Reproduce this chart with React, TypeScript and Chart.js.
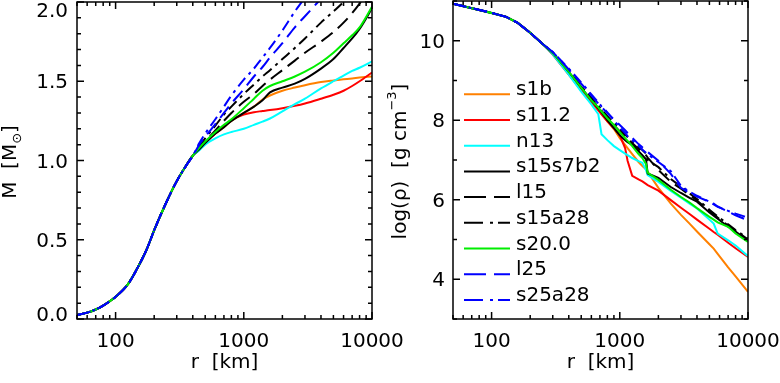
import { useEffect, useRef } from 'react';
import { Chart, registerables } from 'chart.js';
Chart.register(...registerables);

const FONT_FAMILY = '"DejaVu Sans", "Liberation Sans", sans-serif';
const FONT_SIZE = 20;
const SMALL_SIZE = 13;

// ---------- series meta ----------
const SERIES_LABELS = ['s1b', 's11.2', 'n13', 's15s7b2', 'l15', 's15a28', 's20.0', 'l25', 's25a28'];
const SERIES_COLORS = ['#ff8000', '#ff0000', '#00ffff', '#000000', '#000000', '#000000', '#00ee00', '#0000ff', '#0000ff'];
const LINE_KIND = ['solid', 'solid', 'solid', 'solid', 'dash', 'dashdot', 'solid', 'dash', 'dashdot'];

// ---------- left panel: enclosed mass M(r) ----------
const radiusMass = [50, 60, 70, 80, 100, 125, 150, 175, 200, 250, 300, 350, 400,
  450, 500, 600, 700, 800, 1000, 1200, 1400, 1600, 2000, 2500, 3000, 4000, 5000, 6000, 7000, 8000, 10000];
const massCore = [0.025, 0.04, 0.06, 0.085, 0.14, 0.22, 0.33, 0.44, 0.56, 0.74, 0.87, 0.96, 1.03];
const mass_s1b = [...massCore, 1.07, 1.11, 1.17, 1.21, 1.25, 1.30, 1.34, 1.385, 1.41, 1.44, 1.46, 1.475, 1.495, 1.505, 1.512, 1.518, 1.523, 1.53];
const mass_s11 = [...massCore, 1.07, 1.11, 1.17, 1.22, 1.255, 1.29, 1.305, 1.312, 1.318, 1.33, 1.345, 1.36, 1.39, 1.415, 1.44, 1.47, 1.50, 1.555];
const mass_n13 = [...massCore, 1.065, 1.10, 1.14, 1.165, 1.18, 1.20, 1.225, 1.245, 1.265, 1.31, 1.355, 1.39, 1.455, 1.50, 1.535, 1.565, 1.585, 1.625];
const mass_s15s7b2 = [...massCore, 1.07, 1.11, 1.17, 1.21, 1.25, 1.30, 1.34, 1.38, 1.43, 1.46, 1.485, 1.515, 1.58, 1.64, 1.71, 1.77, 1.83, 1.96];
const mass_l15 = [...massCore, 1.08, 1.12, 1.19, 1.25, 1.30, 1.37, 1.42, 1.47, 1.51, 1.57, 1.63, 1.68, 1.75, 1.81, 1.87, 1.93, 1.99, 2.1];
const mass_s15a28 = [...massCore, 1.09, 1.14, 1.22, 1.29, 1.34, 1.42, 1.48, 1.53, 1.57, 1.64, 1.71, 1.77, 1.87, 1.94, 2.0, 2.06, 2.1, 2.18];
const mass_s20 = [...massCore, 1.08, 1.12, 1.18, 1.225, 1.26, 1.33, 1.39, 1.44, 1.47, 1.50, 1.53, 1.56, 1.62, 1.68, 1.74, 1.79, 1.84, 1.97];
const mass_l25 = [...massCore, 1.10, 1.15, 1.23, 1.30, 1.36, 1.45, 1.53, 1.59, 1.65, 1.74, 1.84, 1.91, 2.02, 2.1, 2.16, 2.2, 2.25, 2.33];
const mass_s25a28 = [...massCore, 1.11, 1.17, 1.26, 1.34, 1.41, 1.51, 1.58, 1.65, 1.71, 1.82, 1.94, 2.03, 2.2, 2.3, 2.38, 2.45, 2.5, 2.6];

// ---------- right panel: log density ----------
const radiusRho = [50, 70, 100, 130, 160, 200, 250,
  300, 400, 500, 600, 680, 720, 800, 900, 1000, 1100, 1150, 1250, 1400, 1500, 1600, 1650, 2000,
  2500, 3000, 3500, 4000, 5000, 5400, 5800, 7000, 8000, 10000];
const rhoCore = [10.93, 10.82, 10.70, 10.60, 10.45, 10.20, 9.92];
const rho_s1b = [...rhoCore, 9.68, 9.2, 8.8, 8.48, 8.27, 8.17, 7.97, 7.78, 7.55, 7.38, 7.3, 7.15, 6.95, 6.85, 6.77, 6.7, 6.3, 5.9, 5.62, 5.4, 5.2, 4.88, 4.77, 4.64, 4.3, 4.07, 3.68];
const rho_s11 = [...rhoCore, 9.65, 9.15, 8.75, 8.45, 8.25, 8.15, 7.97, 7.8, 7.62, 7.3, 6.98, 6.6, 6.51, 6.46, 6.4, 6.37, 6.23, 5.99, 5.8, 5.64, 5.5, 5.27, 5.19, 5.12, 4.92, 4.78, 4.56];
const rho_n13 = [...rhoCore, 9.66, 9.15, 8.72, 8.4, 8.15, 7.65, 7.5, 7.35, 7.25, 7.16, 7.12, 7.05, 6.97, 6.93, 6.75, 6.62, 6.45, 6.22, 6.05, 5.9, 5.78, 5.5, 5.4, 5.15, 4.98, 4.85, 4.58];
const rho_s15s7b2 = [...rhoCore, 9.7, 9.22, 8.82, 8.5, 8.3, 8.2, 8.0, 7.8, 7.62, 7.5, 7.45, 7.38, 7.22, 7.12, 7.02, 6.66, 6.55, 6.32, 6.17, 6.05, 5.95, 5.68, 5.6, 5.52, 5.32, 5.2, 4.97];
const rho_l15 = [...rhoCore, 9.7, 9.23, 8.84, 8.53, 8.33, 8.24, 8.06, 7.88, 7.72, 7.58, 7.52, 7.43, 7.28, 7.2, 7.12, 7.06, 6.75, 6.45, 6.28, 6.12, 5.98, 5.72, 5.63, 5.55, 5.35, 5.22, 5.0];
const rho_s15a28 = [...rhoCore, 9.7, 9.24, 8.86, 8.56, 8.36, 8.27, 8.1, 7.93, 7.78, 7.64, 7.58, 7.48, 7.33, 7.25, 7.16, 7.0, 6.82, 6.52, 6.33, 6.16, 6.02, 5.75, 5.66, 5.58, 5.38, 5.24, 5.02];
const rho_s20 = [...rhoCore, 9.7, 9.22, 8.82, 8.5, 8.32, 8.22, 8.05, 7.88, 7.7, 7.55, 7.48, 7.35, 7.15, 7.05, 6.9, 6.68, 6.5, 6.25, 6.07, 5.93, 5.79, 5.57, 5.5, 5.43, 5.32, 5.15, 4.94];
const rho_l25 = [...rhoCore, 9.72, 9.28, 8.92, 8.62, 8.42, 8.33, 8.18, 8.02, 7.88, 7.75, 7.68, 7.56, 7.4, 7.32, 7.25, 7.2, 6.98, 6.65, 6.3, 6.17, 6.08, 5.95, 5.9, 5.83, 5.7, 5.61, 5.48];
const rho_s25a28 = [...rhoCore, 9.72, 9.3, 8.95, 8.65, 8.45, 8.35, 8.2, 8.0, 7.82, 7.68, 7.6, 7.5, 7.36, 7.26, 7.18, 7.14, 6.95, 6.72, 6.35, 6.2, 6.1, 5.95, 5.88, 5.82, 5.72, 5.65, 5.55];

// ---------- axes ----------
const X_TICK_LABELS = [100, 1000, 10000];
const MASS_TICKS = [0, 0.5, 1.0, 1.5, 2.0];
const RHO_TICKS = [4, 6, 8, 10];

const massSeries = [mass_s1b, mass_s11, mass_n13, mass_s15s7b2, mass_l15, mass_s15a28, mass_s20, mass_l25, mass_s25a28];
const rhoSeries = [rho_s1b, rho_s11, rho_n13, rho_s15s7b2, rho_l15, rho_s15a28, rho_s20, rho_l25, rho_s25a28];

const PLOT_DASH: Record<string, number[]> = { solid: [], dash: [14, 7], dashdot: [11, 5, 3, 5] };
const LEGEND_DASH: Record<string, number[]> = { solid: [], dash: [22, 8], dashdot: [19, 7, 3, 5] };

type Run = { t: string; size: number; dy?: number };

function drawRuns(ctx: CanvasRenderingContext2D, runs: Run[], x: number, y: number, rotate: boolean) {
  ctx.save();
  ctx.translate(x, y);
  if (rotate) ctx.rotate(-Math.PI / 2);
  ctx.textBaseline = 'alphabetic';
  ctx.textAlign = 'left';
  ctx.fillStyle = '#000';
  let total = 0;
  const widths = runs.map((r) => {
    ctx.font = `${r.size}px ${FONT_FAMILY}`;
    const w = ctx.measureText(r.t).width;
    total += w;
    return w;
  });
  let cx = -total / 2;
  runs.forEach((r, i) => {
    ctx.font = `${r.size}px ${FONT_FAMILY}`;
    ctx.fillText(r.t, cx, r.dy || 0);
    cx += widths[i];
  });
  ctx.restore();
}

interface AxesCfg {
  yMajor: number[];
  yStep: number;
  yFmt: (v: number) => string;
  yLabelGap: number;
  xTitle: Run[];
  yTitle: Run[];
  yTitleX: number;
  yTitleY: number;
  legend?: { x0: number; x1: number; textX: number; y0: number; dy: number };
}

const MAJ = 7;
const MIN = 4;

function makeAxesPlugin(cfg: AxesCfg) {
  return {
    id: 'idlAxes',
    afterDatasetsDraw(chart: any) {
      const ctx: CanvasRenderingContext2D = chart.ctx;
      const a = chart.chartArea;
      const xs = chart.scales.x;
      const ys = chart.scales.y;
      ctx.save();
      ctx.setLineDash([]);
      ctx.strokeStyle = '#000';
      ctx.lineWidth = 1.5;
      ctx.strokeRect(a.left, a.top, a.right - a.left, a.bottom - a.top);
      ctx.beginPath();
      const lo = Math.floor(Math.log10(xs.min));
      const hi = Math.ceil(Math.log10(xs.max));
      for (let d = lo; d <= hi; d++) {
        for (let k = 1; k < 10; k++) {
          const v = k * Math.pow(10, d);
          if (v < xs.min * (1 - 1e-9) || v > xs.max * (1 + 1e-9)) continue;
          const px = xs.getPixelForValue(v);
          const len = k === 1 ? MAJ : MIN;
          ctx.moveTo(px, a.bottom);
          ctx.lineTo(px, a.bottom - len);
          ctx.moveTo(px, a.top);
          ctx.lineTo(px, a.top + len);
        }
      }
      const n = Math.round((ys.max - ys.min) / cfg.yStep);
      for (let i = 0; i <= n; i++) {
        const v = ys.min + i * cfg.yStep;
        const py = ys.getPixelForValue(v);
        const major = cfg.yMajor.some((m) => Math.abs(m - v) < 1e-6);
        const len = major ? MAJ : MIN;
        ctx.moveTo(a.left, py);
        ctx.lineTo(a.left + len, py);
        ctx.moveTo(a.right, py);
        ctx.lineTo(a.right - len, py);
      }
      ctx.stroke();

      ctx.fillStyle = '#000';
      ctx.font = `${FONT_SIZE}px ${FONT_FAMILY}`;
      ctx.textAlign = 'center';
      ctx.textBaseline = 'alphabetic';
      X_TICK_LABELS.forEach((v) => {
        ctx.fillText(String(v), xs.getPixelForValue(v), a.bottom + 28);
      });
      ctx.textAlign = 'right';
      cfg.yMajor.forEach((v) => {
        let py = ys.getPixelForValue(v);
        py = Math.min(Math.max(py, a.top + 8), a.bottom - 5);
        ctx.fillText(cfg.yFmt(v), a.left - cfg.yLabelGap, py + 7);
      });

      drawRuns(ctx, cfg.xTitle, (a.left + a.right) / 2, a.bottom + 49, false);
      drawRuns(ctx, cfg.yTitle, cfg.yTitleX, cfg.yTitleY, true);

      if (cfg.legend) {
        const L = cfg.legend;
        chart.data.datasets.forEach((ds: any, i: number) => {
          const y = L.y0 + i * L.dy;
          ctx.save();
          ctx.strokeStyle = ds.borderColor;
          ctx.lineWidth = 2;
          ctx.setLineDash(LEGEND_DASH[LINE_KIND[i]]);
          ctx.beginPath();
          ctx.moveTo(L.x0, y);
          ctx.lineTo(L.x1, y);
          ctx.stroke();
          ctx.restore();
          ctx.fillStyle = '#000';
          ctx.textAlign = 'left';
          ctx.font = `${FONT_SIZE}px ${FONT_FAMILY}`;
          ctx.fillText(ds.label, L.textX, y + 1);
        });
      }
      ctx.restore();
    },
  };
}

function buildDatasets(xs: number[], series: number[][], smooth: boolean) {
  return SERIES_LABELS.map((label, i) => ({
    label,
    data: xs.map((r, j) => ({ x: r, y: series[i][j] })),
    borderColor: SERIES_COLORS[i],
    backgroundColor: SERIES_COLORS[i],
    borderWidth: 2,
    borderDash: PLOT_DASH[LINE_KIND[i]],
    pointRadius: 0,
    fill: false,
    tension: 0,
    cubicInterpolationMode: smooth ? 'monotone' : 'default',
    order: SERIES_LABELS.length - i,
  }));
}

export default function App() {
  const leftRef = useRef<HTMLCanvasElement>(null);
  const rightRef = useRef<HTMLCanvasElement>(null);

  useEffect(() => {
    const common = {
      responsive: false,
      animation: false as const,
      devicePixelRatio: 1,
      plugins: { legend: { display: false }, tooltip: { enabled: false } },
    };
    const left = new Chart(leftRef.current as HTMLCanvasElement, {
      type: 'line',
      data: { datasets: buildDatasets(radiusMass, massSeries, true) as any },
      options: {
        ...common,
        layout: { padding: { left: 77, right: 48, top: 2, bottom: 64 } },
        scales: {
          x: { type: 'logarithmic', min: 50, max: 10000, display: false },
          y: { type: 'linear', min: 0, max: 2, display: false },
        },
      } as any,
      plugins: [
        makeAxesPlugin({
          yMajor: MASS_TICKS,
          yStep: 0.1,
          yFmt: (v) => v.toFixed(1),
          yLabelGap: 9,
          xTitle: [{ t: 'r  [km]', size: FONT_SIZE }],
          yTitle: [
            { t: 'M  [M', size: FONT_SIZE },
            { t: '\u2299', size: SMALL_SIZE, dy: 5 },
            { t: ']', size: FONT_SIZE },
          ],
          yTitleX: 15.5,
          yTitleY: 162,
        }),
      ],
    });
    const right = new Chart(rightRef.current as HTMLCanvasElement, {
      type: 'line',
      data: { datasets: buildDatasets(radiusRho, rhoSeries, false) as any },
      options: {
        ...common,
        layout: { padding: { left: 93, right: 32, top: 1, bottom: 64 } },
        scales: {
          x: { type: 'logarithmic', min: 50, max: 10000, display: false },
          y: { type: 'linear', min: 3, max: 11, display: false },
        },
      } as any,
      plugins: [
        makeAxesPlugin({
          yMajor: RHO_TICKS,
          yStep: 1,
          yFmt: (v) => String(v),
          yLabelGap: 8,
          xTitle: [{ t: 'r  [km]', size: FONT_SIZE }],
          yTitle: [
            { t: 'log(\u03c1)  [g cm', size: FONT_SIZE },
            { t: '\u22123', size: SMALL_SIZE, dy: -10 },
            { t: ']', size: FONT_SIZE },
          ],
          yTitleX: 45.5,
          yTitleY: 161.5,
          legend: { x0: 104, x1: 150, textX: 156, y0: 94.3, dy: 25.7 },
        }),
      ],
    });
    return () => {
      left.destroy();
      right.destroy();
    };
  }, []);

  return (
    <div style={{ position: 'absolute', left: 0, top: 0, width: 780, height: 383, background: '#fff', overflow: 'hidden' }}>
      <canvas ref={leftRef} width={420} height={383} style={{ position: 'absolute', left: 0, top: 0 }} />
      <canvas ref={rightRef} width={420} height={383} style={{ position: 'absolute', left: 360, top: 0 }} />
    </div>
  );
}
